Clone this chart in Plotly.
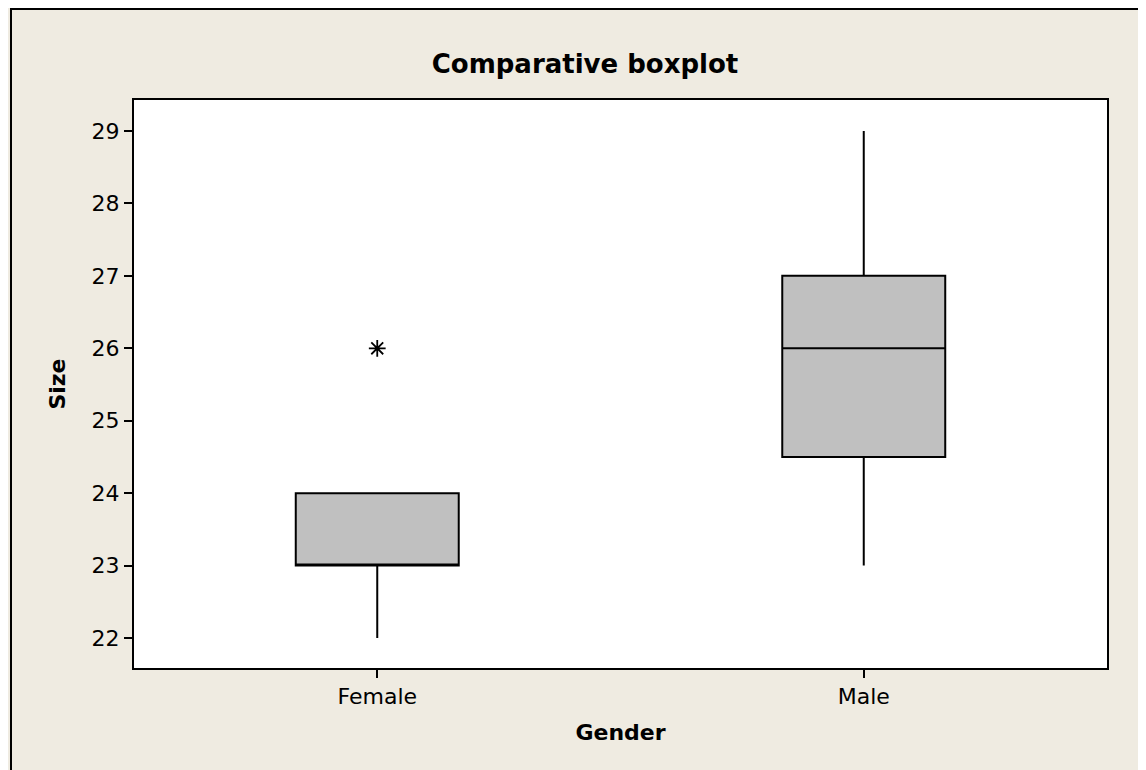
import plotly.graph_objects as go

genders = ["Female", "Male"]
q1 = [23, 24.5]
medians = [23, 26]
q3 = [24, 27]
lower_whisker = [22, 23]
upper_whisker = [24, 29]
outlier_gender = ["Female"]
outlier_size = [26]

fig = go.Figure()
fig.add_trace(go.Box(
    x=genders, q1=q1, median=medians, q3=q3,
    lowerfence=lower_whisker, upperfence=upper_whisker,
    fillcolor="#C0C0C0", line=dict(color="black", width=2),
    whiskerwidth=0, width=0.335, boxpoints=False, showlegend=False,
    hoverinfo="skip",
))
fig.add_trace(go.Scatter(
    x=outlier_gender, y=outlier_size, mode="markers",
    marker=dict(symbol="asterisk-open", size=14, color="black",
                line=dict(color="black", width=1.8)),
    showlegend=False,
))

W, H = 1138, 762
L, T = 126, 92
R = W - 1099
B = H - 660
pw, ph = W - L - R, H - T - B
fx = lambda px: (px - L) / pw
fy = lambda py: 1 - (py - T) / ph

fig.add_shape(type="path", xref="paper", yref="paper",
              path=f"M {fx(3)},{fy(900)} L {fx(3)},{fy(1)} L {fx(1300)},{fy(1)}",
              line=dict(color="black", width=2), layer="below")

font = "DejaVu Sans, Verdana, sans-serif"
fig.update_layout(
    width=W, height=H,
    margin=dict(l=L, r=R, t=T, b=B),
    paper_bgcolor="#EFEBE1", plot_bgcolor="white",
    font=dict(family=font, size=22, color="black"),
    title=dict(text="<b>Comparative boxplot</b>", x=577 / W, xanchor="center",
               xref="container", y=1 - 56 / H, yanchor="middle", font=dict(size=26)),
    xaxis=dict(range=[-0.5, 1.5], showline=True, mirror=True, linecolor="black",
               linewidth=2, ticks="outside", ticklen=8, tickwidth=1.5, tickcolor="black",
               showgrid=False, zeroline=False, tickfont=dict(size=22),
               title=dict(text="<b>Gender</b>", font=dict(size=22), standoff=16)),
    yaxis=dict(range=[21.586, 29.428], showline=True, mirror=True, linecolor="black",
               linewidth=2, ticks="outside", ticklen=8, tickwidth=1.5, tickcolor="black",
               showgrid=False, zeroline=False, dtick=1, tickfont=dict(size=22),
               title=dict(text="<b>Size</b>", font=dict(size=22), standoff=20)),
)
fig.write_html("out.html")
